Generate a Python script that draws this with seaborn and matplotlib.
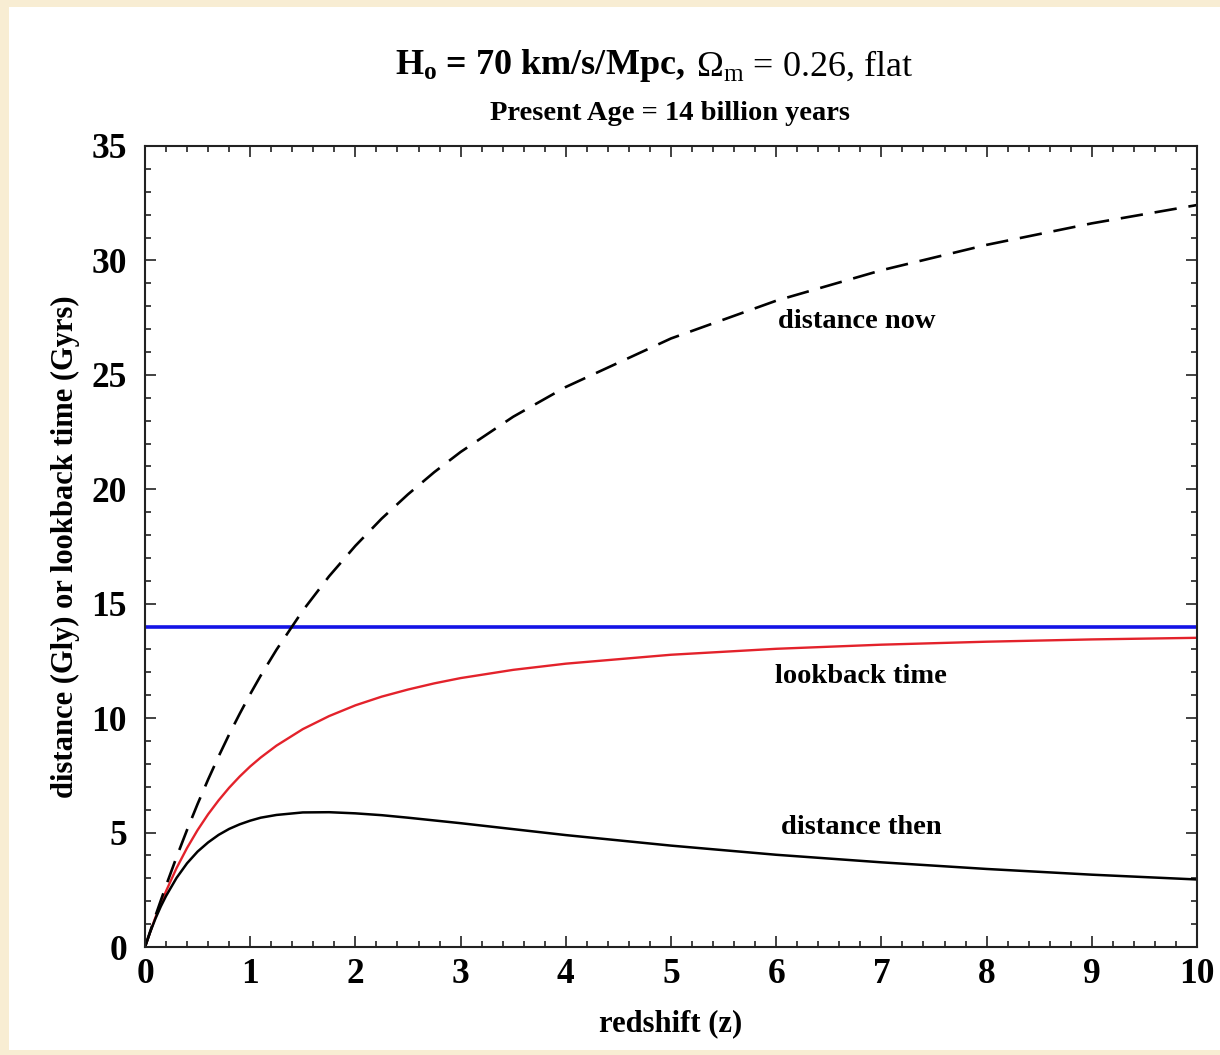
import matplotlib
matplotlib.use("Agg")
import matplotlib.pyplot as plt
from matplotlib.patches import Rectangle
from matplotlib.ticker import MultipleLocator
import seaborn as sns
import pandas as pd

# values
redshift = [0, 0.05, 0.1, 0.15, 0.2, 0.3, 0.4, 0.5, 0.6, 0.7, 0.8, 0.9,
            1.0, 1.1, 1.25, 1.5, 1.75, 2.0, 2.25, 2.5, 2.75, 3.0, 3.5,
            4.0, 5.0, 6.0, 7.0, 8.0, 9.0, 10.0]
distance_now = [0, 0.69, 1.37, 2.03, 2.68, 3.93, 5.12, 6.25, 7.32, 8.33,
                9.29, 10.19, 11.05, 11.86, 12.99, 14.70, 16.20, 17.53,
                18.72, 19.78, 20.75, 21.63, 23.17, 24.47, 26.59, 28.24,
                29.57, 30.68, 31.62, 32.42]
distance_then = [0, 0.66, 1.25, 1.77, 2.23, 3.02, 3.66, 4.17, 4.57, 4.90,
                 5.16, 5.36, 5.52, 5.65, 5.77, 5.88, 5.89, 5.84, 5.76,
                 5.65, 5.53, 5.41, 5.15, 4.89, 4.43, 4.03, 3.70, 3.41,
                 3.16, 2.95]
lookback_time = [0, 0.67, 1.30, 1.89, 2.44, 3.45, 4.33, 5.11, 5.80, 6.41,
                 6.96, 7.45, 7.89, 8.28, 8.80, 9.52, 10.09, 10.56, 10.94,
                 11.25, 11.52, 11.75, 12.11, 12.38, 12.77, 13.03, 13.21,
                 13.34, 13.44, 13.51]
present_age = 14

df = pd.DataFrame({"z": redshift, "now": distance_now,
                   "then": distance_then, "lookback": lookback_time})

sns.set_theme(style="ticks")
plt.rcParams["font.family"] = ["Liberation Serif", "DejaVu Serif"]
plt.rcParams["font.weight"] = "bold"
for key in ["text.color", "axes.labelcolor", "xtick.labelcolor",
            "ytick.labelcolor"]:
    plt.rcParams[key] = "black"

W, H = 1220, 1055
fig = plt.figure(figsize=(W / 100, H / 100), dpi=100, facecolor="#f8edd3")
fig.patches.append(Rectangle((9 / W, 5 / H), 1 - 9 / W, 1 - 12 / H,
                             transform=fig.transFigure, facecolor="white",
                             edgecolor="none", zorder=-10))
ax = fig.add_axes([145 / W, 1 - 947 / H, (1197 - 145) / W, (947 - 146) / H])
ax.set_facecolor("white")

ax.axhline(present_age, color="#1414e6", lw=2.6, zorder=2)
sns.lineplot(data=df, x="z", y="lookback", ax=ax, color="#e3222b", lw=1.7)
sns.lineplot(data=df, x="z", y="then", ax=ax, color="black", lw=1.8)
sns.lineplot(data=df, x="z", y="now", ax=ax, color="black", lw=1.9)
ax.lines[-1].set_dashes([8.5, 4.5])

ax.set_xlim(0, 10)
ax.set_ylim(0, 35)
ax.xaxis.set_major_locator(MultipleLocator(1))
ax.xaxis.set_minor_locator(MultipleLocator(0.2))
ax.yaxis.set_major_locator(MultipleLocator(5))
ax.yaxis.set_minor_locator(MultipleLocator(1))
ax.tick_params(which="both", direction="in", top=True, right=True,
               color="#222222", width=1.2)
ax.tick_params(which="major", length=8)
ax.tick_params(which="minor", length=4)
ax.tick_params(axis="x", labelsize=25.5, pad=8)
ax.tick_params(axis="y", labelsize=25.5, pad=13)
for sp in ax.spines.values():
    sp.set_visible(True)
    sp.set_linewidth(1.5)
    sp.set_color("#222222")

ax.set_xlabel("redshift (z)", fontsize=22, fontweight="bold", labelpad=13)
ax.set_ylabel("distance (Gly) or lookback time (Gyrs)", fontsize=22,
              fontweight="bold", labelpad=8)

ax.text(6.77, 27.35, "distance now", ha="center", va="center",
        fontsize=20.5, fontweight="bold")
ax.text(6.81, 11.84, "lookback time", ha="center", va="center",
        fontsize=20.5, fontweight="bold")
ax.text(6.81, 5.2, "distance then", ha="center", va="center",
        fontsize=20.5, fontweight="bold")

# title: bold first half, regular second half
fig.text(685 / W, 1 - 66 / H, r"$\mathregular{H_o}$ = 70 km/s/Mpc,",
         ha="right", va="center", fontsize=26, fontweight="bold")
fig.text(696 / W, 1 - 66 / H, r"$\mathregular{\Omega_m}$ = 0.26, flat",
         ha="left", va="center", fontsize=26, fontweight="normal")
fig.text(670 / W, 1 - 113 / H, "Present Age = 14 billion years",
         ha="center", va="center", fontsize=20.5, fontweight="bold")

fig.savefig("out.png", dpi=100, facecolor=fig.get_facecolor())
